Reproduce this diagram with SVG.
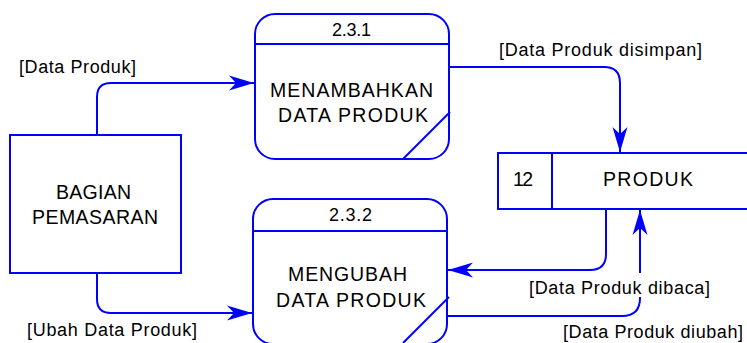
<svg xmlns="http://www.w3.org/2000/svg" width="747" height="343" viewBox="0 0 747 343">
<style>
.s{fill:#fff;stroke:#0000ff;stroke-width:2}
.l{fill:none;stroke:#0000ff;stroke-width:2}
.c{fill:none;stroke:#0000ff;stroke-width:2}
text{font-family:"Liberation Sans",Arial,sans-serif;font-size:18px;fill:#000}
.b{font-size:19.5px}
</style>
<defs>
<marker id="ah" markerUnits="userSpaceOnUse" viewBox="-26 -8 27 16" refX="0" refY="0" markerWidth="27" markerHeight="16" orient="auto">
<path d="M0,0 L-25,-7.5 L-18,0 L-25,7.5 Z" fill="#0000ff"/>
</marker>
</defs>
<rect width="747" height="343" fill="#fff"/>
<g id="connectors">
<path class="c" d="M97,135 V97 Q97,83 111,83 H254" marker-end="url(#ah)"/>
<path class="c" d="M449,67 H604 Q620,67 620,83 V152" marker-end="url(#ah)"/>
<path class="c" d="M606,209 V254 Q606,270 590,270 H448" marker-end="url(#ah)"/>
<path class="c" d="M447,316 H622 Q640,316 640,298 V210" marker-end="url(#ah)"/>
<path class="c" d="M97,273 V299 Q97,313 111,313 H252" marker-end="url(#ah)"/>
<rect x="527" y="273" width="185" height="24" fill="#fff"/>
<text x="19" y="73" textLength="117" lengthAdjust="spacing">[Data Produk]</text>
<text x="499" y="56" textLength="203" lengthAdjust="spacing">[Data Produk disimpan]</text>
<text x="529" y="294" textLength="181" lengthAdjust="spacing">[Data Produk dibaca]</text>
<text x="563" y="338" textLength="180" lengthAdjust="spacing">[Data Produk diubah]</text>
<text x="27" y="336" textLength="170" lengthAdjust="spacing">[Ubah Data Produk]</text>
</g>
<g id="entity">
<rect class="s" x="10" y="135" width="171" height="138"/>
<text class="b" x="56" y="199" textLength="75" lengthAdjust="spacing">BAGIAN</text>
<text class="b" x="32" y="224" textLength="126" lengthAdjust="spacing">PEMASARAN</text>
</g>
<g id="p231">
<rect class="s" x="255" y="14" width="194" height="145" rx="20" ry="20"/>
<line class="l" x1="255" y1="44" x2="449" y2="44"/>
<line class="l" x1="403" y1="159" x2="450" y2="112"/>
<text x="332" y="36" textLength="39" lengthAdjust="spacing">2.3.1</text>
<text class="b" x="270" y="97" textLength="163" lengthAdjust="spacing">MENAMBAHKAN</text>
<text class="b" x="278" y="122" textLength="150" lengthAdjust="spacing">DATA PRODUK</text>
</g>
<g id="p232">
<rect class="s" x="253" y="199" width="194" height="145" rx="20" ry="20"/>
<line class="l" x1="253" y1="231" x2="447" y2="231"/>
<line class="l" x1="403" y1="343" x2="449" y2="297"/>
<text x="329" y="221" textLength="43" lengthAdjust="spacing">2.3.2</text>
<text class="b" x="288" y="281" textLength="119" lengthAdjust="spacing">MENGUBAH</text>
<text class="b" x="276" y="307" textLength="150" lengthAdjust="spacing">DATA PRODUK</text>
</g>
<g id="store">
<rect x="498" y="153" width="249" height="56" fill="#fff"/>
<path class="l" d="M747,153 H498 V209 H747 M552,153 V209"/>
<text class="b" x="513" y="186" textLength="20" lengthAdjust="spacing">12</text>
<text class="b" x="603" y="186" textLength="90" lengthAdjust="spacing">PRODUK</text>
</g>
</svg>
